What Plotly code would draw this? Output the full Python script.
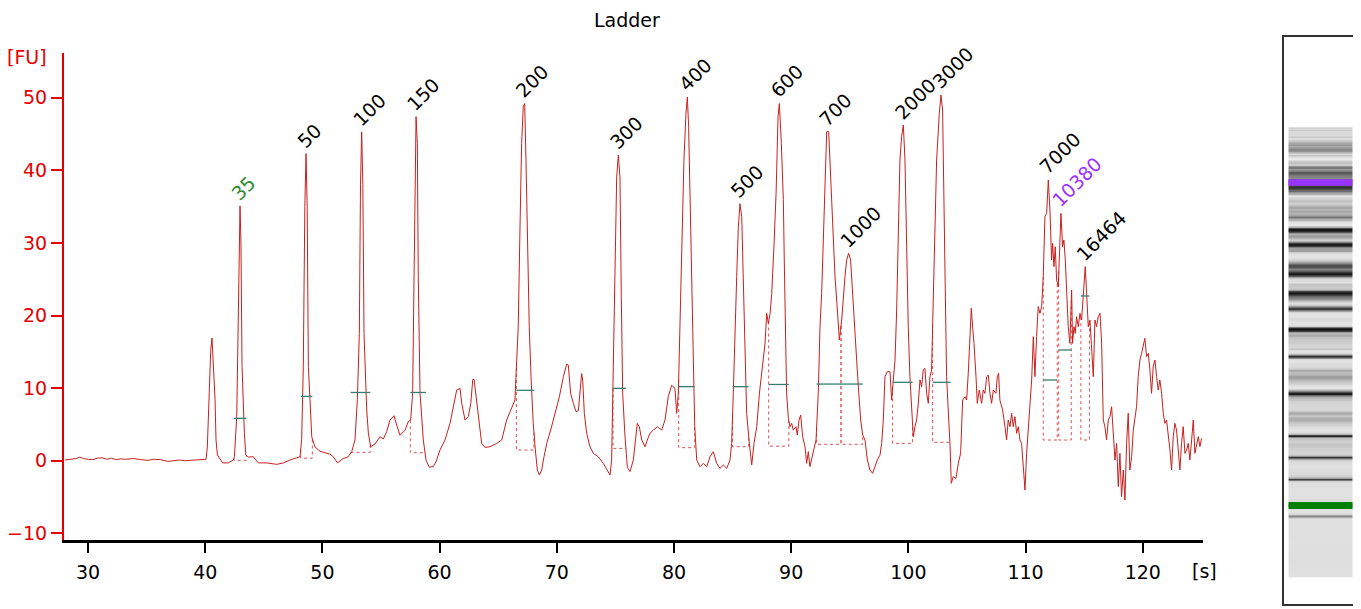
import numpy as np
import plotly.graph_objects as go

# ---------------- data ----------------
time_s = [
    28.04, 28.5, 29.0, 29.3, 29.6, 30.0, 30.4, 30.8, 31.2, 31.6, 32.0, 32.4, 32.8, 33.2, 33.9,
    34.5, 35.1, 35.6, 36.2, 36.8, 37.3, 37.8, 38.3, 38.8, 39.4, 39.98,
    40.07, 40.18, 40.35, 40.47, 40.58, 40.69, 40.84, 40.92, 41.04, 41.49, 41.97, 42.40,
    42.49, 42.69, 42.80, 42.90, 42.97, 43.05, 43.14, 43.34, 43.46, 43.68, 44.11, 44.53, 45.25,
    46.10, 46.67, 47.24, 47.95,
    48.09, 48.23, 48.37, 48.50, 48.60, 48.70, 48.80, 48.94, 49.09, 49.37, 49.80, 50.65, 50.93,
    51.28, 51.78, 52.21,
    52.50, 52.78, 52.98, 53.15, 53.25, 53.35, 53.45, 53.55, 53.78, 53.92, 54.12, 54.49, 54.91,
    55.20, 55.48, 55.77, 56.11, 56.34, 56.62, 57.05, 57.33, 57.53,
    57.70, 57.82, 57.90, 57.99, 58.10, 58.18, 58.33, 58.47, 58.61, 58.84, 59.12, 59.46, 59.69,
    60.03, 60.46, 60.89, 61.17, 61.46, 61.74, 61.89, 62.17, 62.45, 62.66, 62.83, 62.94, 63.11,
    63.30, 63.59, 63.87, 64.30, 64.87, 65.30, 65.72, 66.15, 66.43,
    66.58, 66.71, 66.86, 67.00, 67.14, 67.26, 67.37, 67.48, 67.65, 67.80, 67.99, 68.17, 68.34,
    68.51, 68.71, 68.91, 69.14, 69.48, 69.85, 70.22, 70.56, 70.84, 70.98, 71.18, 71.41, 71.64,
    71.84, 71.98, 72.12, 72.21, 72.35, 72.55, 72.83, 73.12, 73.54, 73.97, 74.31, 74.54,
    74.68, 74.82, 74.97, 75.11, 75.25, 75.39, 75.50, 75.62, 75.82, 76.02, 76.25, 76.53, 76.87,
    77.04, 77.25, 77.53, 77.72, 77.95, 78.24, 78.58, 78.95, 79.23, 79.51, 79.80, 80.08, 80.23,
    80.37, 80.51, 80.66, 80.85, 81.02, 81.14, 81.25, 81.37, 81.51, 81.65, 81.77, 81.94, 82.22,
    82.51, 82.79, 83.07, 83.36, 83.64, 83.92, 84.21, 84.50, 84.78,
    84.92, 85.06, 85.21, 85.35, 85.49, 85.63, 85.78, 85.92, 86.06, 86.20, 86.43, 86.63, 86.83,
    87.06, 87.29, 87.57, 87.77, 87.91, 88.05, 88.20, 88.34, 88.54, 88.71, 88.88, 88.99,
    89.16, 89.33, 89.41, 89.50, 89.61, 89.76, 89.90, 90.04, 90.18, 90.41, 90.52, 90.67, 90.81,
    90.98, 91.18, 91.32, 91.46, 91.60, 91.75, 91.89, 92.03, 92.12,
    92.31, 92.46, 92.60, 92.74, 92.88, 93.03, 93.20, 93.31, 93.45, 93.59, 93.74, 93.94, 94.11,
    94.31, 94.45, 94.59, 94.73, 94.90, 95.07, 95.24, 95.44, 95.64, 95.81, 95.93, 96.10, 96.30,
    96.50, 96.72, 96.95, 97.15, 97.35, 97.58, 97.72, 97.86, 98.00, 98.20, 98.43, 98.57, 98.71,
    98.86, 99.00, 99.14, 99.28, 99.42, 99.57, 99.71, 99.85, 99.99, 100.13, 100.27, 100.42,
    100.56, 100.70, 100.84, 100.99, 101.13, 101.27, 101.41, 101.56, 101.70, 101.84, 101.98,
    102.13, 102.27, 102.41, 102.64, 102.78, 102.92, 103.04, 103.15, 103.26, 103.40, 103.55,
    103.66, 103.83, 104.06, 104.26, 104.46, 104.63, 104.83, 104.97, 105.11, 105.25, 105.37,
    105.48, 105.60, 105.77, 105.88, 106.05, 106.25, 106.39, 106.53, 106.68, 106.82, 106.96,
    107.10, 107.25, 107.47, 107.59, 107.70, 107.81, 108.04, 108.24, 108.38, 108.52, 108.67,
    108.81, 108.95, 109.09, 109.24, 109.38, 109.52, 109.66, 109.81, 109.95, 110.09, 110.23,
    110.37, 110.52, 110.66, 110.80, 110.94, 111.08, 111.23, 111.37, 111.51, 111.65, 111.80,
    111.94, 112.08, 112.22, 112.31, 112.42, 112.53, 112.65, 112.79, 112.93, 113.02, 113.16,
    113.27, 113.39, 113.50, 113.64, 113.78, 113.93, 114.01, 114.13, 114.24, 114.35, 114.50,
    114.64, 114.78, 114.92, 115.09, 115.21, 115.35, 115.49, 115.63, 115.78, 115.92, 116.06,
    116.20, 116.35, 116.49, 116.63, 116.77, 116.91, 117.06, 117.20, 117.34, 117.48, 117.63,
    117.77, 117.91, 118.05, 118.19, 118.34, 118.48, 118.62, 118.76, 118.90, 119.05, 119.19,
    119.33, 119.47, 119.61, 119.76, 119.90, 120.04, 120.18, 120.33, 120.47, 120.61, 120.75,
    120.89, 121.04, 121.18, 121.32, 121.46, 121.61, 121.75, 121.89, 122.03, 122.17, 122.32,
    122.46, 122.60, 122.74, 122.88, 123.03, 123.17, 123.31, 123.45, 123.60, 123.74, 123.88,
    124.02, 124.17, 124.31, 124.45, 124.59, 124.74, 124.88, 125.02,
]

fluorescence = [
    0.1, 0.2, 0.3, 0.5, 0.3, 0.2, 0.15, 0.35, 0.4, 0.2, 0.35, 0.15, 0.25, 0.2, 0.3,
    0.15, 0.05, 0.2, 0.15, -0.1, 0.0, 0.1, 0.0, 0.05, 0.1, 0.15,
    0.2, 1.9, 8.4, 15.2, 16.9, 12.9, 8.4, 2.9, 0.8, -0.3, -0.3, 0.1,
    0.55, 6.1, 17.5, 30.0, 35.1, 30.0, 13.0, 3.8, 0.8, 0.5, 0.55, -0.3, -0.3,
    -0.5, -0.3, 0.1, 0.5,
    0.55, 2.9, 13.0, 35.0, 42.3, 35.0, 13.0, 8.4, 3.3, 1.9, 1.3, 0.9, 0.55,
    -0.3, 0.3, 0.55,
    1.24, 2.85, 8.4, 17.5, 38.0, 45.3, 38.0, 17.5, 7.0, 3.8, 1.93, 2.3, 3.3,
    3.0, 4.0, 5.6, 6.2, 4.9, 3.5, 4.2, 5.4, 5.6,
    9.3, 25.4, 41.4, 47.4, 43.7, 25.4, 9.3, 5.6, 2.85, 0.1, -0.9, -0.8, -0.14,
    1.47, 2.85, 5.15, 7.44, 9.74, 9.97, 7.9, 5.6, 6.06, 7.9, 11.2, 11.2, 8.82,
    5.6, 2.39, 1.84, 1.93, 2.39, 2.85, 5.6, 7.44, 8.36,
    13.87, 18.46, 32.2, 43.7, 48.8, 49.2, 41.4, 32.2, 18.46, 11.57, 5.15, 1.47, -1.28,
    -1.97, -1.28, 0.55, 2.39, 4.23, 6.52, 8.82, 11.57, 13.3, 13.2, 9.28, 7.9, 6.76,
    6.9, 9.28, 12.0, 11.1, 6.52, 3.77, 1.93, 1.02, 0.55, -0.36, -1.28, -1.97,
    0.1, 11.57, 23.05, 39.1, 42.1, 39.1, 23.05, 9.28, 3.31, -0.91, -1.5, 0.1, 5.15,
    4.68, 2.85, 1.93, 2.85, 3.77, 4.23, 4.68, 4.23, 5.6, 8.82, 10.4, 9.97, 6.52,
    9.28, 18.46, 27.6, 41.4, 47.8, 50.1, 46.0, 36.8, 23.05, 13.87, 4.68, 0.1, -0.83,
    -0.36, -0.83, 0.55, 1.24, -0.36, -1.05, -0.59, -1.05, 0.1,
    2.39, 9.28, 16.2, 25.35, 32.2, 35.4, 33.6, 23.05, 13.87, 6.52, 2.39, -0.59, 2.39,
    4.68, 9.28, 13.87, 16.2, 20.3, 18.9, 20.3, 23.05, 29.9, 36.8, 47.4, 49.2,
    43.7, 36.0, 27.64, 16.17, 9.28, 5.84, 4.69, 5.15, 4.23, 4.69, 3.54, 5.61, 6.30,
    3.31, 1.94, -0.36, 1.25, -0.82, 0.33, 1.02, 2.39, 2.85,
    9.28, 18.46, 23.05, 29.94, 39.12, 45.32, 45.32, 41.42, 36.83, 32.24, 25.35, 20.76, 16.63,
    19.38, 23.05, 25.35, 27.64, 28.56, 27.64, 23.05, 16.17, 12.49, 8.36, 5.61, 3.54, 2.85,
    0.10, -1.28, -1.74, -0.82, 0.10, 0.78, 2.39, 5.61, 11.58, 12.27, 12.27, 8.36, 11.58,
    13.87, 20.76, 32.24, 41.42, 44.63, 46.24, 41.42, 27.64, 18.46, 11.58, 7.0, 3.31,
    4.69, 5.61, 7.8, 11.12, 10.2, 12.49, 12.72, 9.28, 7.9, 11.58, 12.49,
    23.05, 35.91, 41.42, 47.84, 50.37, 48.3, 36.83, 23.05, 11.58, 7.0, 2.39,
    -3.12, -2.2, -2.43, -0.36, 1.02, 8.36, 8.82, 8.36, 12.03, 16.17, 20.99,
    18.46, 16.17, 11.58, 7.9, 9.74, 7.9, 9.74, 9.28, 11.58, 11.8, 9.28,
    7.9, 9.74, 9.28, 11.58, 12.03, 8.36, 7.0, 4.69, 2.85, 5.61, 4.69,
    6.53, 4.69, 6.07, 3.77, 4.69, 2.85, 2.39, -0.36, -4.03, 1.02, 4.69,
    7.0, 11.12, 17.09, 11.58, 17.09, 21.22, 20.3, 21.22, 25.35, 33.61, 34.07,
    38.66, 34.53, 27.64, 29.94, 26.73, 29.48, 24.89, 23.97, 31.32, 34.07, 29.48,
    30.40, 27.64, 23.05, 18.46, 16.17, 23.51, 16.17, 18.46, 17.54, 19.84, 18.46,
    20.3, 19.38, 23.05, 26.73, 23.05, 18.46, 19.38, 16.17, 11.58, 19.38, 18.46,
    19.84, 20.3, 16.17, 5.61, 4.69, 2.85, 5.61, 6.07, 7.44, 3.77, 0.10,
    2.39, -3.57, 1.02, -4.95, -1.28, -5.41, 2.39, 6.53, -1.28, 0.56, 4.23,
    6.07, 7.44, 11.58, 13.87, 14.79, 15.71, 16.86, 14.33, 14.79, 12.49, 9.28,
    12.95, 13.87, 11.58, 9.74, 11.12, 9.28, 6.53, 5.15, 5.61, 3.77, 1.48,
    -1.28, 3.31, 5.15, 4.23, 1.48, -1.28, 2.39, 4.69, 1.02, 1.48, 2.39,
    0.10, 2.85, 5.61, 1.02, 2.39, 3.31, 1.94, 3.08,
]

# peak table
peak_sizes = ["35", "50", "100", "150", "200", "300", "400", "500", "600", "700",
              "1000", "2000", "3000", "7000", "10380", "16464"]
peak_times = [42.97, 48.60, 53.35, 57.99, 67.26, 75.25, 81.14, 85.63, 88.99, 93.10,
              94.90, 99.57, 102.78, 111.94, 113.02, 115.09]
peak_heights = [35.1, 42.3, 45.3, 47.4, 49.2, 42.1, 50.1, 35.4, 49.2, 45.3,
                28.6, 46.2, 50.4, 38.7, 34.1, 26.7]
peak_starts = [42.45, 48.15, 52.40, 57.50, 66.55, 74.80, 80.40, 85.00, 88.08, 92.17,
               94.25, 98.65, 102.07, 111.51, 112.83, 114.72]
peak_ends = [43.50, 49.14, 54.08, 58.84, 68.05, 75.90, 81.77, 86.37, 89.80, 94.25,
             96.10, 100.36, 103.60, 112.70, 113.90, 115.45]
peak_marks = [5.84, 8.87, 9.4, 9.4, 9.7, 9.97, 10.2, 10.2, 10.5, 10.56,
              10.56, 10.8, 10.8, 11.12, 15.25, 22.69]
peak_baselines = [0.05, 0.35, 1.15, 1.1, 1.47, 1.7, 1.8, 1.93, 2.0, 2.26,
                  2.26, 2.39, 2.53, 2.85, 2.85, 2.85]
label_colors = ["#2e8b2e"] + ["#000000"] * 13 + ["#9b30ff"] + ["#000000"]

x_ticks = [30, 40, 50, 60, 70, 80, 90, 100, 110, 120]
y_ticks = [-10, 0, 10, 20, 30, 40, 50]
lower_marker_time = 42.97
upper_marker_time = 113.02

# ---------------- figure ----------------
OFF = 8                      # page body margin of the browser
W, H = 1361 - OFF, 609 - OFF
FONT = "DejaVu Sans"
RED = "#e60000"
TRACE = "#c8201e"


def fx(px):
    return (px - OFF) / W


def fy(py):
    return 1 - (py - OFF) / H


fig = go.Figure()

t = np.array(time_s)
fu = np.array(fluorescence)

# dotted peak baselines
bx, by = [], []
for s, e, b in zip(peak_starts, peak_ends, peak_baselines):
    ys = float(np.interp(s, t, fu))
    ye = float(np.interp(e, t, fu))
    bx += [s, s, e, e, None]
    by += [max(ys, b), b, b, max(ye, b), None]
fig.add_trace(go.Scatter(x=bx, y=by, mode="lines", xaxis="x", yaxis="y",
                         line=dict(color="#e05050", width=1, dash="dot"),
                         hoverinfo="skip", showlegend=False))

# electropherogram
fig.add_trace(go.Scatter(x=time_s, y=fluorescence, mode="lines", xaxis="x", yaxis="y",
                         line=dict(color=TRACE, width=1), showlegend=False))

# peak window marks
mx, my = [], []
for s, e, m in zip(peak_starts, peak_ends, peak_marks):
    mx += [s, e, None]
    my += [m, m, None]
fig.add_trace(go.Scatter(x=mx, y=my, mode="lines", xaxis="x", yaxis="y",
                         line=dict(color="#367f70", width=1.3),
                         hoverinfo="skip", showlegend=False))

# gel lane (virtual gel) built from the same trace
edges = np.concatenate([[27.46], (t[1:] + t[:-1]) / 2, [125.0]])
zmin, zmax = -6, 50


def pos(v):
    return (v - zmin) / (zmax - zmin)


gel_scale = [[0, "rgb(240,240,240)"], [pos(0), "rgb(224,224,224)"],
             [pos(5), "rgb(200,200,200)"], [pos(12), "rgb(160,160,160)"],
             [pos(25), "rgb(85,85,85)"], [1, "rgb(15,15,15)"]]
fig.add_trace(go.Heatmap(z=[[v] for v in fluorescence], x=[4.5, 68.5], y=edges,
                         xaxis="x2", yaxis="y2", colorscale=gel_scale,
                         zmin=zmin, zmax=zmax, showscale=False, hoverinfo="skip"))
fig.add_trace(go.Scatter(x=[4.5, 68.5], y=[lower_marker_time] * 2, mode="lines",
                         xaxis="x2", yaxis="y2", line=dict(color="#008000", width=7),
                         showlegend=False, hoverinfo="skip"))
fig.add_trace(go.Scatter(x=[4.5, 68.5], y=[upper_marker_time] * 2, mode="lines",
                         xaxis="x2", yaxis="y2", line=dict(color="#9933ff", width=6.5),
                         showlegend=False, hoverinfo="skip"))

annotations = []
for name, pt, ph, col in zip(peak_sizes, peak_times, peak_heights, label_colors):
    annotations.append(dict(x=pt, y=ph, xref="x", yref="y", text=name, showarrow=False,
                            textangle=-45, xanchor="left", yanchor="bottom",
                            xshift=-16, yshift=-1,
                            font=dict(family=FONT, size=19, color=col)))
annotations += [
    dict(x=fx(627), y=1.0, xref="paper", yref="paper", text="Ladder",
         showarrow=False, xanchor="center", yanchor="top", borderpad=0,
         font=dict(family=FONT, size=19, color="#000000")),
    dict(x=fx(27), y=fy(57), xref="paper", yref="paper", text="[FU]",
         showarrow=False, xanchor="center", yanchor="middle",
         font=dict(family=FONT, size=19, color=RED)),
    dict(x=fx(1204), y=fy(571), xref="paper", yref="paper", text="[s]",
         showarrow=False, xanchor="center", yanchor="middle",
         font=dict(family=FONT, size=19, color="#000000")),
]

fig.update_layout(
    width=W, height=H,
    margin=dict(l=0, r=0, t=0, b=0),
    paper_bgcolor="white", plot_bgcolor="white",
    showlegend=False,
    font=dict(family=FONT, size=19),
    xaxis=dict(domain=[fx(64), fx(1203)], range=[27.95, 125.14],
               tickvals=x_ticks, ticks="outside", ticklen=10, tickwidth=2,
               tickcolor="#000", showline=True, linecolor="#000", linewidth=2.5,
               showgrid=False, zeroline=False, automargin=False,
               ticklabelstandoff=3,
               tickfont=dict(family=FONT, size=19, color="#000")),
    yaxis=dict(domain=[fy(540), fy(53)], range=[-10.92, 56.16],
               tickvals=y_ticks, ticks="outside", ticklen=11, tickwidth=2,
               tickcolor=RED, showline=True, linecolor=RED, linewidth=2,
               showgrid=False, zeroline=False, automargin=False,
               tickfont=dict(family=FONT, size=19, color=RED)),
    xaxis2=dict(domain=[fx(1284), fx(1357)], range=[0, 73], showticklabels=False,
                ticks="", showgrid=False, zeroline=False, showline=True, mirror=True,
                linecolor="#333", linewidth=1.5, anchor="y2"),
    yaxis2=dict(domain=[fy(604), fy(37)], range=[21.61, 144.57],
                showticklabels=False, ticks="", showgrid=False, zeroline=False,
                showline=True, mirror=True, linecolor="#333", linewidth=1.5,
                anchor="x2"),
    annotations=annotations,
)

fig.write_html("out.html")
